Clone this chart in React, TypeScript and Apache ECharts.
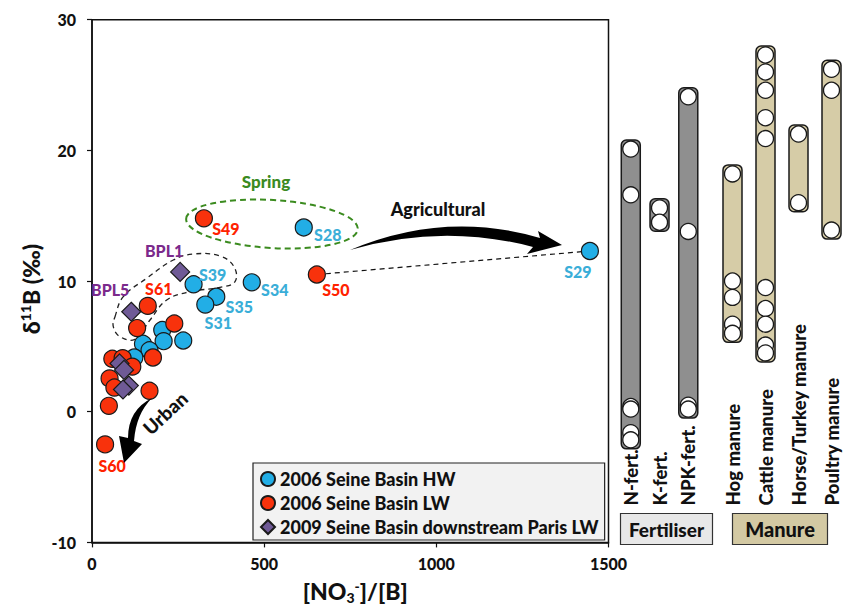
import React, { useEffect, useRef } from 'react';
import * as echarts from 'echarts';

const FONT = 'Lato, "Open Sans", "DejaVu Sans", sans-serif';
const W = 900;

// Axis ticks
const X_TICKS = [0, 500, 1000, 1500];
const Y_TICKS = [-10, 0, 10, 20, 30];

// [NO3-]/[B], δ11B (‰), sample label
const HW_POINTS: Array<[number, number, string]> = [
  [615, 14.1, 'S28'], [295, 9.75, 'S39'], [464, 9.9, 'S34'], [361, 8.8, 'S35'],
  [329, 8.2, 'S31'], [1446, 12.3, 'S29'],
  [204, 6.25, ''], [208, 5.4, ''], [265, 5.45, ''], [148, 5.2, ''], [167, 4.7, ''], [123, 4.15, ''],
];
const LW_POINTS: Array<[number, number, string]> = [
  [325, 14.8, 'S49'], [653, 10.5, 'S50'], [162, 8.1, 'S61'],
  [131, 6.4, ''], [239, 6.75, ''], [177, 4.15, ''], [59, 4.05, ''], [89, 4.1, ''],
  [117, 3.45, ''], [51, 2.55, ''], [65, 1.85, ''], [167, 1.6, ''], [49, 0.45, ''],
  [38, -2.5, 'S60'],
];
const DS_POINTS: Array<[number, number, string]> = [
  [256, 10.7, 'BPL1'], [114, 7.65, 'BPL5'], [80, 3.7, ''], [93, 3.2, ''], [107, 2.0, ''], [90, 1.7, ''],
];

const SERIES_NAMES = ['2006 Seine Basin HW', '2006 Seine Basin LW', '2009 Seine Basin downstream Paris LW'];

// End-member δ11B values
const FERT_CATS = ['N-fert.', 'K-fert.', 'NPK-fert.'];
const FERT_VALUES = [
  [20.1, 16.6, 0.4, 0.2, -1.6, -2.15],
  [15.6, 14.5],
  [24.1, 13.8, 0.5, 0.2],
];
const MANURE_CATS = ['Hog manure', 'Cattle manure', 'Horse/Turkey manure', 'Poultry manure'];
const MANURE_VALUES = [
  [18.2, 10.0, 8.75, 6.7, 6.0],
  [27.3, 26.0, 24.6, 22.5, 20.9, 9.5, 7.9, 6.7, 5.1, 4.5],
  [21.25, 16.0],
  [26.2, 24.6, 13.9],
];

// label offsets (px) relative to the marker
const LABEL_OFFSETS: Record<string, [number, number]> = {
  S28: [24, 7], S49: [22, 10], S50: [19, 15], S29: [-12, 21], S39: [19, -10], S34: [23, 7],
  S35: [23, 10], S31: [13, 18], S61: [11, -17], S60: [7, 21], BPL1: [-16, -21], BPL5: [-21, -22],
};

const COLORS = {
  hw: '#22aee6', lw: '#f8320c', ds: '#6f5a96',
  hwText: '#3aaed8', lwText: '#ff2200', dsText: '#7b2a8c',
  fert: '#8f8f8f', manure: '#d6cca7', spring: '#3b8b1f',
};

const AGRI_PATH = 'M 350 250 Q 445 210 540 238 L 538 231 L 562 245 L 527 254 L 533 247 Q 442 223 350 250 Z';
const URBAN_PATH = 'M 152 398 Q 128 410 128 438 L 119 436 L 124 463 L 142 444 L 134 441 Q 136 414 152 398 Z';
echarts.graphic.registerShape('agriArrow', echarts.graphic.extendPath(AGRI_PATH, {}));
echarts.graphic.registerShape('urbanArrow', echarts.graphic.extendPath(URBAN_PATH, {}));

const GRID_TOP = 19.7;
const GRID_H = 522.7;
const BOLD = 900;

function pointData(points: Array<[number, number, string]>, color: string) {
  return points.map(([x, y, name]) => ({
    value: [x, y],
    name,
    label: name
      ? {
          show: true,
          position: 'inside',
          offset: LABEL_OFFSETS[name] || [0, 0],
          formatter: name,
          color,
          fontFamily: FONT,
          fontWeight: BOLD,
          fontSize: 16,
        }
      : { show: false },
  }));
}

function rangeData(values: number[][]) {
  return values.map((vals, i) => [i, Math.min(...vals), Math.max(...vals)]);
}
function circleData(values: number[][]) {
  const out: number[][] = [];
  values.forEach((vals, i) => vals.forEach((v) => out.push([i, v])));
  return out;
}

function barRenderer(cats: string[], fill: string) {
  return (params: any, api: any) => {
    const idx = api.value(0);
    const lo = api.value(1);
    const hi = api.value(2);
    const pTop = api.coord([idx, hi]);
    const pBot = api.coord([idx, lo]);
    const base = api.coord([idx, Y_TICKS[0]]);
    const w = 19;
    const pad = 9;
    return {
      type: 'group',
      children: [
        {
          type: 'rect',
          shape: { x: pTop[0] - w / 2, y: pTop[1] - pad, width: w, height: pBot[1] - pTop[1] + 2 * pad, r: 5 },
          style: { fill, stroke: '#1a1a1a', lineWidth: 1.5 },
        },
        {
          type: 'text',
          x: pTop[0],
          y: base[1] - 37,
          rotation: Math.PI / 2,
          style: {
            text: cats[params.dataIndex],
            fontSize: 18.5,
            fontWeight: BOLD,
            fontFamily: FONT,
            fill: '#111',
            align: 'left',
            verticalAlign: 'middle',
          },
        },
      ],
    };
  };
}

function hiddenAxes(gridIndex: number, cats: string[]) {
  return {
    x: { gridIndex, type: 'category', data: cats, show: false, boundaryGap: true },
    y: { gridIndex, type: 'value', min: Y_TICKS[0], max: Y_TICKS[Y_TICKS.length - 1], show: false },
  };
}

function textEl(text: string, x: number, y: number, size: number, fill: string, rotation = 0) {
  return {
    type: 'text',
    x,
    y,
    rotation,
    z: 11,
    style: {
      text, fontFamily: FONT, fontSize: size, fontWeight: BOLD, fill,
      align: 'center', verticalAlign: 'middle', textAlign: 'center', textVerticalAlign: 'middle',
    },
  };
}

export default function App() {
  const ref = useRef<HTMLDivElement>(null);

  useEffect(() => {
    if (!ref.current) return;
    const chart = echarts.init(ref.current, undefined, { renderer: 'svg' });

    const s50 = LW_POINTS.find((p) => p[2] === 'S50')!;
    const s29 = HW_POINTS.find((p) => p[2] === 'S29')!;
    const fertAxes = hiddenAxes(1, FERT_CATS);
    const manAxes = hiddenAxes(2, MANURE_CATS);

    const axisText = { fontFamily: FONT, fontSize: 16, fontWeight: BOLD, color: '#111' };

    const option: any = {
      animation: false,
      backgroundColor: '#fff',
      grid: [
        { left: 92, top: GRID_TOP, width: 516.5, height: GRID_H, show: true, borderColor: '#111', borderWidth: 1.5, outerBoundsMode: 'none', containLabel: false },
        { left: 616.4, top: GRID_TOP, width: 86.25, height: GRID_H, outerBoundsMode: 'none', containLabel: false },
        { left: 716, width: 132, top: GRID_TOP, height: GRID_H, outerBoundsMode: 'none', containLabel: false },
      ],
      xAxis: [
        {
          gridIndex: 0,
          type: 'value',
          min: X_TICKS[0],
          max: X_TICKS[X_TICKS.length - 1],
          interval: X_TICKS[1] - X_TICKS[0],
          axisLine: { show: true, onZero: false, lineStyle: { color: '#111', width: 1.5 } },
          axisTick: { show: true, inside: false, length: 5, lineStyle: { color: '#111', width: 1.2 } },
          axisLabel: { ...axisText, margin: 13, formatter: (v: number) => String(v) },
          splitLine: { show: false },
          name: '{a|[NO}{sub|3}{sup|-}{a|]/[B]}',
          nameLocation: 'middle',
          nameGap: 36,
          nameMoveOverlap: false,
          nameTextStyle: {
            padding: [0, 0, 0, 10],
            rich: {
              a: { fontFamily: FONT, fontSize: 23, fontWeight: BOLD, color: '#111' },
              sub: { fontFamily: FONT, fontSize: 14, fontWeight: BOLD, color: '#111', padding: [12, 0, 0, 0] },
              sup: { fontFamily: FONT, fontSize: 14, fontWeight: BOLD, color: '#111', padding: [0, 0, 12, 0] },
            },
          },
        },
        fertAxes.x,
        manAxes.x,
      ],
      yAxis: [
        {
          gridIndex: 0,
          type: 'value',
          min: Y_TICKS[0],
          max: Y_TICKS[Y_TICKS.length - 1],
          interval: Y_TICKS[1] - Y_TICKS[0],
          axisLine: { show: true, onZero: false, lineStyle: { color: '#111', width: 1.5 } },
          axisTick: { show: true, inside: false, length: 5, lineStyle: { color: '#111', width: 1.2 } },
          axisLabel: { ...axisText, margin: 16, formatter: (v: number) => String(v) },
          splitLine: { show: false },
          name: '{a|δ}{sup|11}{a|B (‰)}',
          nameLocation: 'middle',
          nameGap: 48,
          nameMoveOverlap: false,
          nameTextStyle: {
            padding: [0, 16, 0, 0],
            rich: {
              a: { fontFamily: FONT, fontSize: 23, fontWeight: BOLD, color: '#111' },
              sup: { fontFamily: FONT, fontSize: 14, fontWeight: BOLD, color: '#111', padding: [0, 0, 12, 0] },
            },
          },
        },
        fertAxes.y,
        manAxes.y,
      ],
      legend: {
        orient: 'vertical',
        left: 253,
        top: 463,
        padding: [7, 6, 4, 7],
        itemGap: 6,
        itemWidth: 14,
        itemHeight: 14,
        selectedMode: false,
        backgroundColor: '#f2f2f2',
        borderColor: '#222',
        borderWidth: 1.2,
        borderRadius: 0,
        textStyle: { fontFamily: FONT, fontSize: 18, fontWeight: BOLD, color: '#111' },
        data: [
          { name: SERIES_NAMES[0], icon: 'circle' },
          { name: SERIES_NAMES[1], icon: 'circle' },
          { name: SERIES_NAMES[2], icon: 'diamond' },
        ],
      },
      series: [
        {
          type: 'line',
          xAxisIndex: 0,
          yAxisIndex: 0,
          data: [[s50[0], s50[1]], [s29[0], s29[1]]],
          symbol: 'none',
          silent: true,
          z: 1,
          lineStyle: { color: '#111', width: 1.2, type: [5, 4] },
        },
        {
          type: 'scatter',
          name: SERIES_NAMES[0],
          xAxisIndex: 0,
          yAxisIndex: 0,
          symbol: 'circle',
          symbolSize: 17,
          z: 3,
          itemStyle: { color: COLORS.hw, borderColor: '#1a1a1a', borderWidth: 1.2, opacity: 1 },
          data: pointData(HW_POINTS, COLORS.hwText),
        },
        {
          type: 'scatter',
          name: SERIES_NAMES[1],
          xAxisIndex: 0,
          yAxisIndex: 0,
          symbol: 'circle',
          symbolSize: 17,
          z: 4,
          itemStyle: { color: COLORS.lw, borderColor: '#1a1a1a', borderWidth: 1.2, opacity: 1 },
          data: pointData(LW_POINTS, COLORS.lwText),
        },
        {
          type: 'scatter',
          name: SERIES_NAMES[2],
          xAxisIndex: 0,
          yAxisIndex: 0,
          symbol: 'diamond',
          symbolSize: 19,
          z: 5,
          itemStyle: { color: COLORS.ds, borderColor: '#1a1a1a', borderWidth: 1.2, opacity: 1 },
          data: pointData(DS_POINTS, COLORS.dsText),
        },
        {
          type: 'custom',
          xAxisIndex: 1,
          yAxisIndex: 1,
          z: 2,
          silent: true,
          encode: { x: 0, y: [1, 2] },
          renderItem: barRenderer(FERT_CATS, COLORS.fert),
          data: rangeData(FERT_VALUES),
        },
        {
          type: 'scatter',
          xAxisIndex: 1,
          yAxisIndex: 1,
          z: 3,
          silent: true,
          symbol: 'circle',
          symbolSize: 16,
          itemStyle: { color: '#fff', borderColor: '#1a1a1a', borderWidth: 1.3, opacity: 1 },
          data: circleData(FERT_VALUES),
        },
        {
          type: 'custom',
          xAxisIndex: 2,
          yAxisIndex: 2,
          z: 2,
          silent: true,
          encode: { x: 0, y: [1, 2] },
          renderItem: barRenderer(MANURE_CATS, COLORS.manure),
          data: rangeData(MANURE_VALUES),
        },
        {
          type: 'scatter',
          xAxisIndex: 2,
          yAxisIndex: 2,
          z: 3,
          silent: true,
          symbol: 'circle',
          symbolSize: 16,
          itemStyle: { color: '#fff', borderColor: '#1a1a1a', borderWidth: 1.3, opacity: 1 },
          data: circleData(MANURE_VALUES),
        },
      ],
      graphic: [
        {
          type: 'ellipse',
          x: 272,
          y: 224,
          rotation: -0.06,
          shape: { cx: 0, cy: 0, rx: 86, ry: 24 },
          style: { fill: 'none', stroke: COLORS.spring, lineWidth: 2, lineDash: [6, 4] },
          z: 10,
        },
        textEl('Spring', 266, 181, 17, COLORS.spring),
        {
          type: 'polygon',
          shape: {
            points: [
              [115, 316.7], [123.3, 296.7], [146.7, 278.3], [173.3, 260], [193.3, 254], [220, 256],
              [234, 266.7], [235, 281.7], [220, 287.3], [190, 291.7], [166.7, 300], [150, 320],
              [135, 339.3], [120, 336.7], [113.3, 326.7],
            ],
            smooth: 0.4,
          },
          style: { fill: 'none', stroke: '#222', lineWidth: 1.3, lineDash: [5, 4] },
          z: 1,
        },
        { type: 'agriArrow', x: 0, y: 0, style: { fill: '#000' }, z: 10 },
        textEl('Agricultural', 438, 209, 18, '#111'),
        { type: 'urbanArrow', x: 0, y: 0, style: { fill: '#000' }, z: 10 },
        textEl('Urban', 165, 413, 19, '#111', 0.75),
        {
          type: 'rect',
          shape: { x: 620.5, y: 513.5, width: 92, height: 31 },
          style: { fill: '#e8e8e8', stroke: '#333', lineWidth: 1.2 },
          z: 10,
        },
        textEl('Fertiliser', 666.5, 529, 19, '#111'),
        {
          type: 'rect',
          shape: { x: 732.5, y: 513.5, width: 95, height: 31 },
          style: { fill: '#d3c9a3', stroke: '#333', lineWidth: 1.2 },
          z: 10,
        },
        textEl('Manure', 780, 529, 20, '#111'),
      ],
    };

    chart.setOption(option);
    return () => chart.dispose();
  }, []);

  return (
    <div style={{ position: 'fixed', left: 0, top: 0, width: 844, height: 609, overflow: 'hidden', background: '#fff' }}>
      <div ref={ref} style={{ width: W, height: 609 }} />
    </div>
  );
}
